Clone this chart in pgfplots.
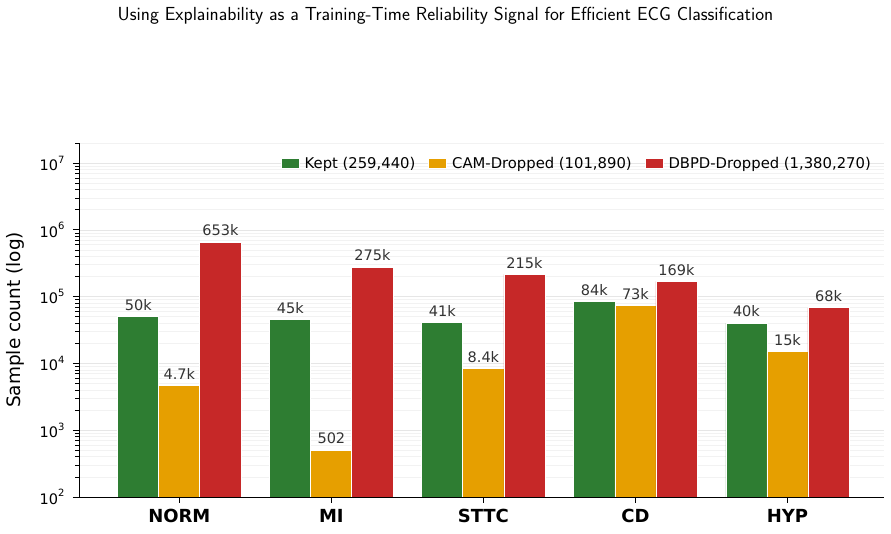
\documentclass[border=0pt]{standalone}
\usepackage{fontspec}
\setmainfont{DejaVu Sans}
\usepackage{pgfplots}
\pgfplotsset{compat=1.18}

\definecolor{keptgreen}{HTML}{2E7D32}
\definecolor{camorange}{HTML}{E69F00}
\definecolor{dbpdred}{HTML}{C62828}
\definecolor{gridmajor}{HTML}{E6E6E6}
\definecolor{gridminor}{HTML}{F2F2F2}

\newcommand{\tenpow}[1]{10\raisebox{0.5em}{\fontsize{10}{10}\selectfont #1}}

\begin{document}
\begin{tikzpicture}[x=1pt,y=1pt]
\path[use as bounding box] (0,0) rectangle (891,533);
\node[font=\sffamily\fontsize{18.9}{22}\selectfont] at (445.5,517)
  {Using Explainability as a Training-Time Reliability Signal for Efficient ECG Classification};
\begin{axis}[
  at={(79pt,36pt)}, anchor=south west,
  scale only axis, width=805pt, height=354pt,
  ymode=log, ymin=100, ymax=2e7,
  xmin=-0.66, xmax=4.635,
  axis lines*=left,
  axis line style={black, line width=0.9pt},
  xtick={0,1,2,3,4},
  xticklabels={NORM,MI,STTC,CD,HYP},
  x tick label style={font=\bfseries\fontsize{18}{20}\selectfont, yshift=-3pt},
  ytick={1e2,1e3,1e4,1e5,1e6,1e7},
  yticklabels={\tenpow{2},\tenpow{3},\tenpow{4},\tenpow{5},\tenpow{6},\tenpow{7}},
  minor ytick={200,300,400,500,600,700,800,900,
    2000,3000,4000,5000,6000,7000,8000,9000,
    20000,30000,40000,50000,60000,70000,80000,90000,
    200000,300000,400000,500000,600000,700000,800000,900000,
    2000000,3000000,4000000,5000000,6000000,7000000,8000000,9000000,20000000},
  y tick label style={font=\fontsize{14.5}{17}\selectfont, xshift=-5pt},
  tick align=outside,
  major tick length=6pt, minor tick length=3.5pt,
  tick style={black, line width=0.8pt},
  minor tick style={black, line width=0.6pt},
  ymajorgrids, yminorgrids,
  major grid style={gridmajor, line width=0.7pt},
  minor grid style={gridminor, line width=0.6pt},
  ylabel={Sample count (log)},
  every axis y label/.style={at={(axis description cs:-0.079,0.5)}, rotate=90, anchor=center,
    font=\fontsize{18.5}{21}\selectfont},
  ybar, bar width=0.27,
  every axis plot/.append style={draw=white, line width=0.8pt},
  point meta=explicit symbolic,
  nodes near coords,
  every node near coord/.append style={font=\fontsize{14.5}{17}\selectfont, text=black!80, anchor=south, yshift=2.5pt},
  legend columns=3,
  legend style={at={(1,1)}, anchor=north east, xshift=-8pt, yshift=-10pt,
    draw=none, fill=none,
    font=\fontsize{14.8}{17}\selectfont,
    /tikz/every odd column/.append style={column sep=3pt},
    /tikz/every even column/.append style={column sep=11pt}},
  legend image code/.code={\fill[#1] (0pt,-5pt) rectangle (18pt,5pt);},
]
\addplot[fill=keptgreen, bar shift=-0.27] coordinates {
  (0,50000)[50k] (1,45000)[45k] (2,41000)[41k] (3,84000)[84k] (4,40000)[40k]};
\addplot[fill=camorange, bar shift=0] coordinates {
  (0,4700)[4.7k] (1,502)[502] (2,8400)[8.4k] (3,73000)[73k] (4,15000)[15k]};
\addplot[fill=dbpdred, bar shift=0.27] coordinates {
  (0,653000)[653k] (1,275000)[275k] (2,215000)[215k] (3,169000)[169k] (4,68000)[68k]};
\legend{Kept (259{,}440), CAM-Dropped (101{,}890), DBPD-Dropped (1{,}380{,}270)}
\end{axis}
\end{tikzpicture}
\end{document}
